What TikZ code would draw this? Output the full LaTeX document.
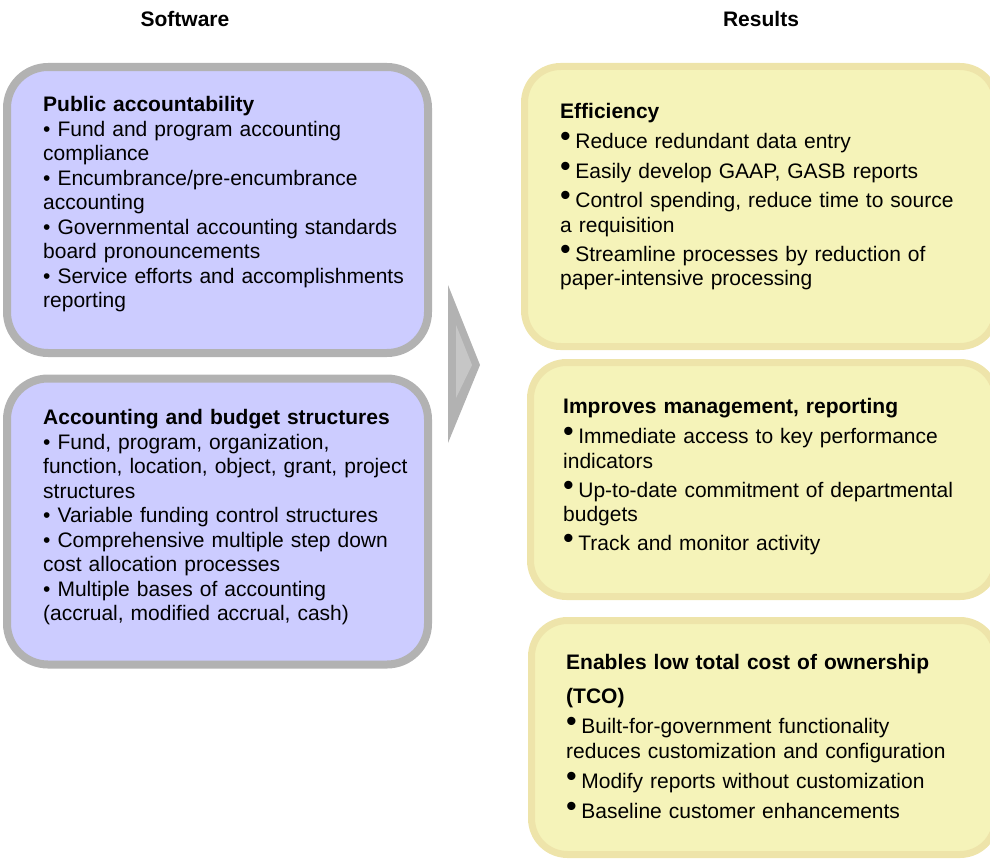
\documentclass[tikz,border=0pt]{standalone}
\usepackage{fontspec}
\setmainfont{Liberation Sans}
\usepackage{tikz}
\usetikzlibrary{positioning}

\definecolor{softfill}{HTML}{CCCCFF}
\definecolor{softline}{HTML}{B2B2B2}
\definecolor{resfill}{HTML}{F5F3B9}
\definecolor{resline}{HTML}{EEE4AA}
\definecolor{arrowfill}{HTML}{C6C6C6}

% raised bullet of the result boxes
\newcommand{\resbul}{\raisebox{2pt}{\scalebox{1.45}{\textbullet}}\hspace{4.5pt}}

\begin{document}
\begin{tikzpicture}[x=1pt,y=-1pt]
\tikzset{softbox/.style = {rectangle, draw=softline, fill=softfill, line width=8pt,
rounded corners=41pt, minimum width=421pt, minimum height=286pt, inner sep=0pt},
resbox/.style = {rectangle, draw=resline, fill=resfill, line width=7pt,
rounded corners=36pt, inner sep=0pt},
boxtext/.style = {anchor=base west, text width=440pt, align=left, inner sep=0pt,
font=\fontsize{21}{24.5}\selectfont},
head/.style = {anchor=base, inner sep=0pt, font=\fontsize{21}{24.5}\selectfont\bfseries}}
\useasboundingbox (0,0) rectangle (990,859);
% headings
\node [head] (software) at (185,26.5) {Software};
\node [head] (results) at (761,26.5) {Results};
% software boxes
\node [softbox] (public) at (217.5,210) {};
\node [softbox] (structures) at (217.5,521.5) {};
% result boxes
\node [resbox, minimum width=471.5pt, minimum height=280pt] (efficiency) at (760.25,206.5) {};
\node [resbox, minimum width=465.5pt, minimum height=234pt] (management) at (763.25,479.5) {};
\node [resbox, minimum width=464.5pt, minimum height=234pt] (tco) at (763.75,737.5) {};
% arrow between the columns
\fill [softline] (448,285) -- (480,365) -- (448,443) -- cycle;
\fill [arrowfill] (456,325) -- (472,365) -- (456,398) -- cycle;
% texts
\node [boxtext] (publictext) at (43,111.5) {\textbf{Public accountability}\\
\textbullet{} Fund and program accounting\\
compliance\\
\textbullet{} Encumbrance/pre-encumbrance\\
accounting\\
\textbullet{} Governmental accounting standards\\
board pronouncements\\
\textbullet{} Service efforts and accomplishments\\
reporting};
\node [boxtext] (structurestext) at (43,424.5) {\textbf{Accounting and budget structures}\\
\textbullet{} Fund, program, organization,\\
function, location, object, grant, project\\
structures\\
\textbullet{} Variable funding control structures\\
\textbullet{} Comprehensive multiple step down\\
cost allocation processes\\
\textbullet{} Multiple bases of accounting\\
(accrual, modified accrual, cash)};
\node [boxtext] (efficiencytext) at (560,118.5) {\textbf{Efficiency}\\[5.5pt]
\resbul Reduce redundant data entry\\[5.5pt]
\resbul Easily develop GAAP, GASB reports\\[4.5pt]
\resbul Control spending, reduce time to source\\
a requisition\\[4.5pt]
\resbul Streamline processes by reduction of\\
paper-intensive processing};
\node [boxtext] (managementtext) at (563,413.5) {\textbf{Improves management, reporting}\\[5.5pt]
\resbul Immediate access to key performance\\
indicators\\[4.5pt]
\resbul Up-to-date commitment of departmental\\
budgets\\[4pt]
\resbul Track and monitor activity};
\node [boxtext] (tcotext) at (566,669.5) {\textbf{Enables low total cost of ownership}\\[9.5pt]
\textbf{(TCO)}\\[5.5pt]
\resbul Built-for-government functionality\\
reduces customization and configuration\\[5.5pt]
\resbul Modify reports without customization\\[5.5pt]
\resbul Baseline customer enhancements};
\end{tikzpicture}
\end{document}
